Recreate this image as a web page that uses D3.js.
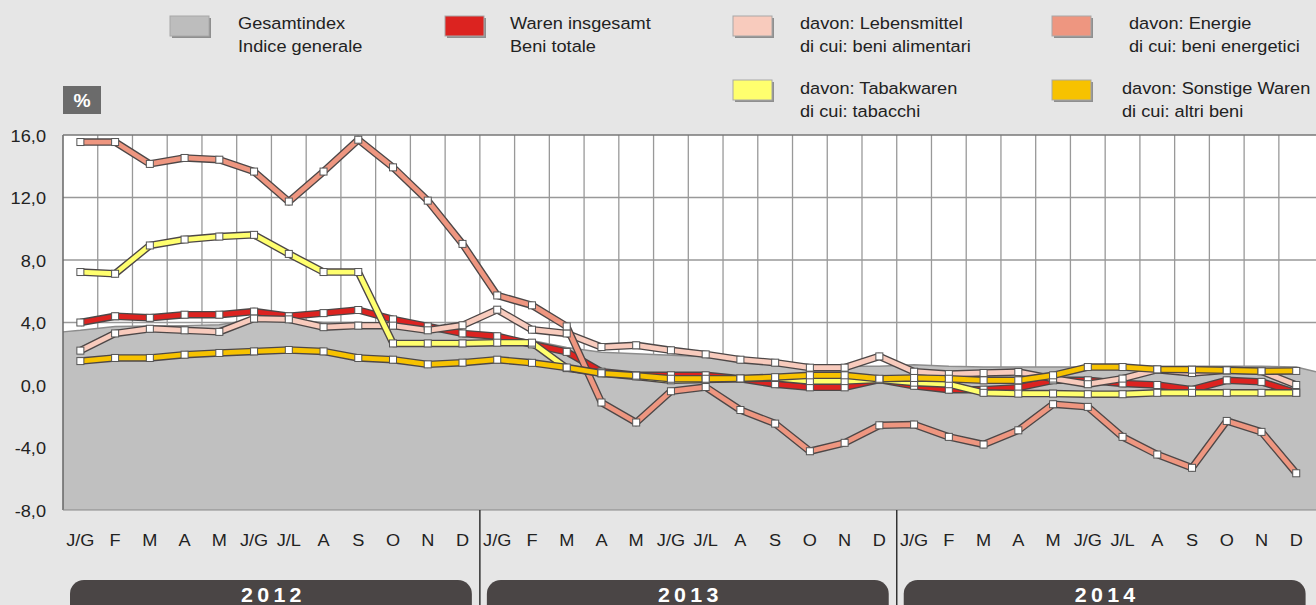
<!DOCTYPE html>
<html><head><meta charset="utf-8">
<script src="https://cdn.jsdelivr.net/npm/d3@7"></script>
<style>
html,body{margin:0;padding:0;background:#e6e6e6;}
svg{display:block;font-family:"Liberation Sans",Arial,sans-serif;}
</style></head>
<body>
<svg id="c" width="1316" height="605"></svg>
<script>
const years = ["2012","2013","2014"];
const monthLabels = ["J/G","F","M","A","M","J/G","J/L","A","S","O","N","D"];
const yTicks = [16,12,8,4,0,-4,-8];

// Gesamtindex / Indice generale (area), plus values at the plot edges
const gesamtStart = 3.4;
const gesamtEnd = 0.85;
const gesamtindex = [3.5,3.75,3.78,3.8,3.85,4.2,4.2,4.0,4.0,3.85,3.6,3.4,
                     3.15,2.85,2.4,2.1,2.0,1.9,1.8,1.7,1.5,1.3,1.2,1.2,
                     1.3,1.2,1.15,1.15,1.15,1.15,1.2,1.2,1.2,1.2,1.2,1.15];
const waren = [4.0,4.4,4.3,4.5,4.5,4.7,4.4,4.6,4.8,4.2,3.75,3.3,
               3.12,2.6,2.12,0.85,0.62,0.62,0.62,0.4,0.05,-0.15,-0.15,0.35,
               -0.05,-0.3,-0.3,-0.17,0.3,0.3,0.1,0.0,-0.3,0.3,0.2,-0.5];
const lebensmittel = [2.2,3.3,3.6,3.5,3.4,4.25,4.2,3.7,3.8,3.8,3.5,3.82,
                      4.82,3.54,3.3,2.43,2.54,2.22,1.96,1.62,1.43,1.11,1.11,1.83,
                      0.85,0.7,0.77,0.83,0.41,0.05,0.41,0.98,0.77,0.94,0.88,0.0];
const energie = [15.55,15.55,14.15,14.53,14.42,13.66,11.74,13.66,15.7,13.93,11.8,9.03,
                 5.73,5.1,3.75,-1.12,-2.4,-0.4,-0.13,-1.6,-2.47,-4.24,-3.7,-2.58,
                 -2.53,-3.32,-3.81,-2.9,-1.23,-1.4,-3.32,-4.45,-5.3,-2.3,-3.0,-5.65];
const tabak = [7.23,7.12,8.93,9.31,9.5,9.61,8.39,7.23,7.23,2.66,2.66,2.66,
               2.71,2.71,1.08,0.75,0.55,0.3,0.35,0.4,0.45,0.25,0.25,0.35,
               0.15,0.05,-0.5,-0.55,-0.55,-0.59,-0.59,-0.5,-0.5,-0.5,-0.5,-0.5];
const sonstige = [1.53,1.73,1.73,1.94,2.05,2.15,2.24,2.15,1.73,1.62,1.32,1.43,
                  1.62,1.42,1.12,0.75,0.6,0.4,0.4,0.42,0.5,0.62,0.62,0.4,
                  0.45,0.4,0.3,0.3,0.62,1.15,1.15,1.0,0.98,0.94,0.88,0.9];

const legendItems = [
  {l1:"Gesamtindex", l2:"Indice generale", color:"#bdbdbd"},
  {l1:"Waren insgesamt", l2:"Beni totale", color:"#dc2320"},
  {l1:"davon: Lebensmittel", l2:"di cui: beni alimentari", color:"#f8cbbd"},
  {l1:"davon: Energie", l2:"di cui: beni energetici", color:"#ee9680"},
  {l1:"davon: Tabakwaren", l2:"di cui: tabacchi", color:"#ffff6e"},
  {l1:"davon: Sonstige Waren", l2:"di cui: altri beni", color:"#f7c200"}
];

const seriesList = [
  {values:waren, color:"#dc2320"},
  {values:lebensmittel, color:"#f8cbbd"},
  {values:energie, color:"#ee9680"},
  {values:tabak, color:"#ffff6e"},
  {values:sonstige, color:"#f7c200"}
];

(function(){
const keys = [];
years.forEach(yy => monthLabels.forEach((m,i) => keys.push(yy+"-"+i)));

const svg = d3.select("#c");
const pLeft = 63, pRight = 1313.6, pTop = 135, pBottom = 510;
const x = d3.scaleBand().domain(keys).range([pLeft, pRight]).padding(0);
const bw = x.bandwidth();
const cx = i => x(keys[i]) + bw/2;
const y = d3.scaleLinear().domain([-8,16]).range([pBottom, pTop]);
const SX = 1.07;
const tr = (tx,ty) => `translate(${tx},${ty}) scale(${SX},1)`;

svg.append("rect").attr("x",pLeft).attr("y",pTop).attr("width",1316-pLeft).attr("height",pBottom-pTop).attr("fill","#fff");

const g = svg.append("g");
g.selectAll("line.h").data(yTicks.slice(1,-1)).join("line")
  .attr("x1",pLeft).attr("x2",1316).attr("y1",d=>y(d)).attr("y2",d=>y(d))
  .attr("stroke","#999").attr("stroke-width",1.3);
g.selectAll("line.v").data(keys.slice(1)).join("line")
  .attr("x1",d=>x(d)).attr("x2",d=>x(d)).attr("y1",pTop).attr("y2",pBottom)
  .attr("stroke","#999").attr("stroke-width",1.3);

const areaPts = [{px:pLeft, v:gesamtStart}]
  .concat(gesamtindex.map((v,i)=>({px:cx(i), v})))
  .concat([{px:1316, v:gesamtEnd}]);
svg.append("path").datum(areaPts)
  .attr("d", d3.area().x(d=>d.px).y0(pBottom).y1(d=>y(d.v)))
  .attr("fill","#c0c0c0");
svg.append("path").datum(areaPts)
  .attr("d", d3.line().x(d=>d.px).y(d=>y(d.v)))
  .attr("fill","none").attr("stroke","#8c8c8c").attr("stroke-width",1.5);

svg.append("line").attr("x1",pLeft).attr("x2",pLeft).attr("y1",pTop).attr("y2",pBottom).attr("stroke","#666").attr("stroke-width",1.5);
svg.append("line").attr("x1",pLeft).attr("x2",1316).attr("y1",pTop).attr("y2",pTop).attr("stroke","#777").attr("stroke-width",1.5);
svg.append("line").attr("x1",pLeft).attr("x2",1316).attr("y1",pBottom).attr("y2",pBottom).attr("stroke","#888").attr("stroke-width",1);

const lineGen = d3.line().x((d,i)=>cx(i)).y(d=>y(d));
seriesList.forEach(s => {
  svg.append("path").datum(s.values).attr("d",lineGen)
    .attr("fill","none").attr("stroke","#4d4747").attr("stroke-width",7.5).attr("stroke-linejoin","round");
  svg.append("path").datum(s.values).attr("d",lineGen)
    .attr("fill","none").attr("stroke",s.color).attr("stroke-width",4.8).attr("stroke-linejoin","round");
});
seriesList.forEach(s => {
  svg.append("g").selectAll("rect").data(s.values).join("rect")
    .attr("x",(d,i)=>cx(i)-3.5).attr("y",d=>y(d)-3.5).attr("width",7).attr("height",7)
    .attr("fill","#fff").attr("stroke","#555").attr("stroke-width",1);
});

svg.append("g").selectAll("text").data(yTicks).join("text")
  .attr("transform",d=>tr(46, y(d)+6.5)).attr("text-anchor","end")
  .attr("font-size",17).attr("fill","#222")
  .text(d=>d3.format(".1f")(d).replace(".",",").replace("\u2212","-"));

svg.append("rect").attr("x",63).attr("y",86).attr("width",38).attr("height",28).attr("fill","#6b6b6b");
svg.append("text").attr("transform",tr(82,107)).attr("text-anchor","middle").attr("fill","#fff")
  .attr("font-size",18).attr("font-weight","bold").text("%");

svg.append("g").selectAll("text").data(keys).join("text")
  .attr("transform",(d,i)=>tr(cx(i),545.5)).attr("text-anchor","middle")
  .attr("font-size",17).attr("fill","#222")
  .text((d,i)=>monthLabels[i%12]);

years.forEach((yr,k) => {
  const x0 = x(keys[k*12]), x1 = x(keys[k*12+11]) + bw;
  if (k>0) svg.append("line").attr("x1",x0).attr("x2",x0).attr("y1",pBottom).attr("y2",605)
    .attr("stroke","#333").attr("stroke-width",1.5);
  svg.append("rect").attr("x",x0+7).attr("y",580).attr("width",x1-x0-15).attr("height",40)
    .attr("rx",14).attr("fill","#4a4545");
  svg.append("text").attr("transform",tr((x0+x1)/2+2,602)).attr("text-anchor","middle")
    .attr("fill","#fff").attr("font-size",20).attr("font-weight","bold")
    .attr("letter-spacing","4px").text(yr);
});

const legPos = [[170,16],[445,16],[733,16],[1052,16],[733,80],[1052,80]];
const legText = [238,510,800,1129,800,1122];
const legBase = [29,29,29,29,94,94];
legendItems.forEach((it,i) => {
  const [lx,ly] = legPos[i];
  svg.append("rect").attr("x",lx+2).attr("y",ly+2).attr("width",39).attr("height",20).attr("fill","#8f8f8f");
  svg.append("rect").attr("x",lx).attr("y",ly).attr("width",39).attr("height",20)
    .attr("fill",it.color).attr("stroke","#a8a8a8").attr("stroke-width",1);
  svg.append("text").attr("transform",tr(legText[i],legBase[i])).attr("font-size",17).attr("fill","#222").text(it.l1);
  svg.append("text").attr("transform",tr(legText[i],legBase[i]+23)).attr("font-size",17).attr("fill","#222").text(it.l2);
});
})();
</script>
</body></html>
